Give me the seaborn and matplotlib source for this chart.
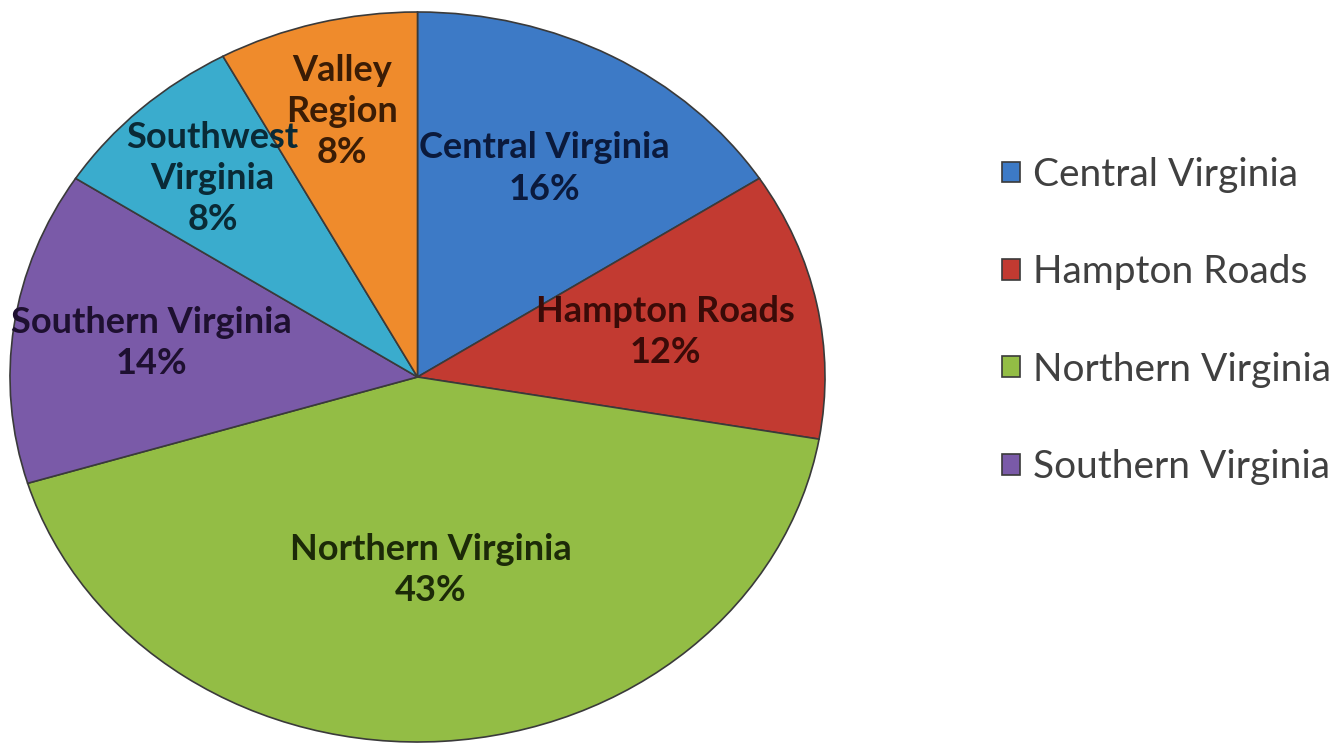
from matplotlib import pyplot as plt
import seaborn as sns
import numpy as np

regions = ["Central Virginia", "Hampton Roads", "Northern Virginia",
           "Southern Virginia", "Southwest Virginia", "Valley Region"]
shares = [16, 12, 43, 14, 8, 8]
slice_labels = ["Central Virginia", "Hampton Roads", "Northern Virginia",
                "Southern Virginia", "Southwest\nVirginia", "Valley\nRegion"]
legend_count = 4  # legend in the original only fits the first four

sns.set_style("white")
plt.rcParams['font.family'] = ['Lato', 'DejaVu Sans']

colors = sns.color_palette(["#3d7ac6", "#c23a31", "#93bd45", "#7a5aa8", "#3aaccd", "#ef8b2c"])
text_colors = ["#0b1a3c", "#3a0b08", "#1c2a08", "#1e1030", "#0a2a36", "#3a1c05"]
label_r = [0.65, 0.62, 0.53, 0.66, 0.74, 0.75]

fig = plt.figure(figsize=(13.37, 7.45), dpi=100)
ax = fig.add_axes([10/1337, 3/745, 815/1337, 730/745])

wedges, _ = ax.pie(shares, colors=colors, startangle=90, counterclock=False,
                   wedgeprops=dict(edgecolor="#3a3a3a", linewidth=1.2))
ax.set_aspect('auto')
ax.set_xlim(-1, 1)
ax.set_ylim(-1, 1)
ax.axis('off')

for w, lab, pct, tc, r in zip(wedges, slice_labels, shares, text_colors, label_r):
    mid = np.deg2rad((w.theta1 + w.theta2) / 2)
    ax.text(r*np.cos(mid), r*np.sin(mid), f"{lab}\n{pct}%", ha='center', va='center',
            fontsize=26, fontweight='bold', color=tc, linespacing=1.3)

fig.legend(wedges[:legend_count], regions[:legend_count], loc='center left',
           bbox_to_anchor=(1002/1337, 1 - 321/745), frameon=False, fontsize=28,
           labelcolor="#404040", handlelength=0.45, handleheight=0.45,
           handletextpad=0.35, labelspacing=1.58, borderaxespad=0, borderpad=0)

plt.savefig("out.png", dpi=100)
